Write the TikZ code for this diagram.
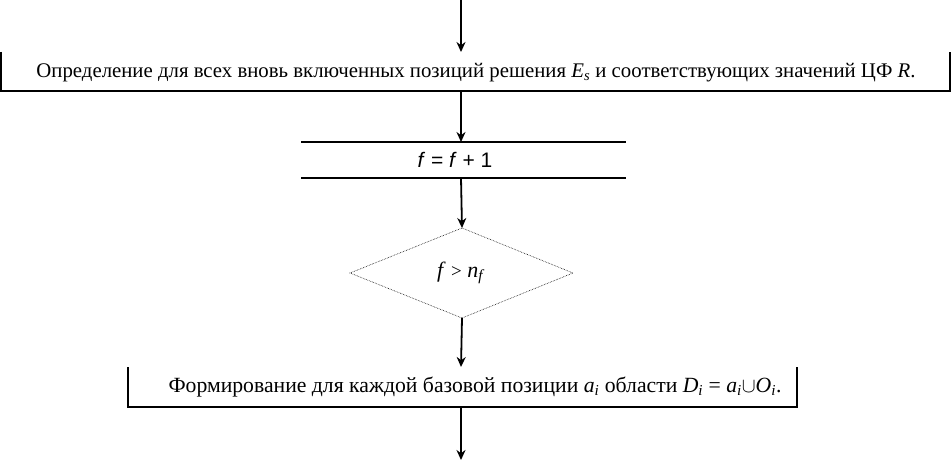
\documentclass[tikz,border=0pt]{standalone}
\usepackage{fontspec}
\setmainfont{Liberation Serif}
\newfontfamily\arialf{Liberation Sans}
\usetikzlibrary{arrows.meta}
\begin{document}
\begin{tikzpicture}[x=1pt,y=-1pt,
  boxline/.style={line width=1.3pt},
  flowarrow/.style={line width=1.8pt,-{Stealth[length=10pt,width=9pt]}},
  lbl/.style={inner sep=0pt,font=\rmfamily\fontsize{20.8}{24}\selectfont}]
\useasboundingbox (0,0) rectangle (952,460);
% box 1 (left, bottom, right sides)
\coordinate (b1tl) at (1,52);
\coordinate (b1bl) at (1,91);
\coordinate (b1br) at (950,91);
\coordinate (b1tr) at (950,52);
\draw[boxline] (b1tl) -- (b1bl) -- (b1br) -- (b1tr);
\node[lbl] (t1) at (476,73) {Определение для всех вновь включенных позиций решения \textit{E}\textsubscript{\textit{s}} и соответствующих значений ЦФ \textit{R}.};
\coordinate (b1top) at (461,52);
\coordinate (b1bot) at (461,91);
% box 2 (top and bottom lines)
\coordinate (b2a) at (301,142);
\coordinate (b2b) at (626,142);
\coordinate (b2c) at (301,178);
\coordinate (b2d) at (626,178);
\draw[boxline] (b2a) -- (b2b);
\draw[boxline] (b2c) -- (b2d);
\node[lbl,font=\arialf\fontsize{21}{24}\selectfont] (t2) at (455,160) {\textit{f} = \textit{f} + 1};
\coordinate (b2top) at (461,142);
\coordinate (b2bot) at (461,178);
% diamond
\coordinate (dT) at (462,228);
\coordinate (dR) at (573,273);
\coordinate (dB) at (462,318);
\coordinate (dL) at (350,273);
\draw[densely dotted,line width=0.6pt] (dT) -- (dR) -- (dB) -- (dL) -- cycle;
\node[lbl,font=\rmfamily\fontsize{22}{26}\selectfont] (t3) at (461,273) {\textit{f} {\fontsize{19}{20}\selectfont >} \textit{n}\textsubscript{\textit{f}}};
% box 3
\coordinate (b3tl) at (128,367);
\coordinate (b3bl) at (128,407);
\coordinate (b3br) at (797,407);
\coordinate (b3tr) at (797,367);
\draw[boxline] (b3tl) -- (b3bl) -- (b3br) -- (b3tr);
\node[lbl,font=\rmfamily\fontsize{21.7}{25}\selectfont] (t4) at (475,387) {Формирование для каждой базовой позиции \textit{a}\textsubscript{\textit{i}} области \textit{D}\textsubscript{\textit{i}} = \textit{a}\textsubscript{\textit{i}}$\cup$\textit{O}\textsubscript{\textit{i}}.};
\coordinate (b3top) at (461,367);
\coordinate (b3bot) at (461,407);
% arrows
\coordinate (start) at (461,0);
\coordinate (endp) at (461,460);
\draw[flowarrow] (start) -- (b1top);
\draw[flowarrow] (b1bot) -- (b2top);
\draw[flowarrow] (b2bot) -- (dT);
\draw[flowarrow] (dB) -- (b3top);
\draw[flowarrow] (b3bot) -- (endp);
\end{tikzpicture}
\end{document}
